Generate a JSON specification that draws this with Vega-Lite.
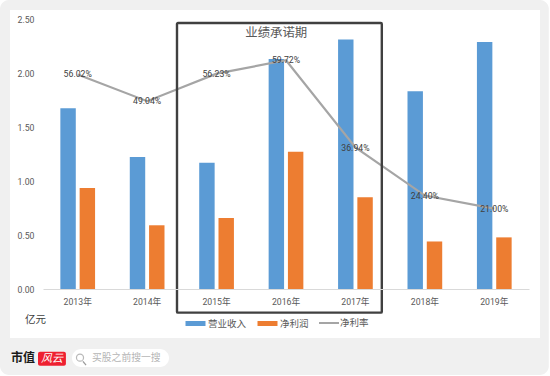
{
"$schema":"https://vega.github.io/schema/vega-lite/v6.json",
"width":486,"height":270,
"autosize":{"type":"none"},
"padding":{"left":43,"top":19,"right":21,"bottom":87},
"background":"#ffffff",
"view":{"stroke":null},
"config":{"font":"Noto Sans CJK SC","text":{"font":"Noto Sans CJK SC"}},
"datasets":{
"bars":[
{"year":"2013年","series":"营业收入","value":1.673},{"year":"2013年","series":"净利润","value":0.935},
{"year":"2014年","series":"营业收入","value":1.222},{"year":"2014年","series":"净利润","value":0.59},
{"year":"2015年","series":"营业收入","value":1.17},{"year":"2015年","series":"净利润","value":0.657},
{"year":"2016年","series":"营业收入","value":2.13},{"year":"2016年","series":"净利润","value":1.27},
{"year":"2017年","series":"营业收入","value":2.31},{"year":"2017年","series":"净利润","value":0.85},
{"year":"2018年","series":"营业收入","value":1.83},{"year":"2018年","series":"净利润","value":0.44},
{"year":"2019年","series":"营业收入","value":2.287},{"year":"2019年","series":"净利润","value":0.478}],
"margin":[
{"year":"2013年","series":"净利率","value":56.02,"label":"56.02%"},
{"year":"2014年","series":"净利率","value":49.04,"label":"49.04%"},
{"year":"2015年","series":"净利率","value":56.23,"label":"56.23%"},
{"year":"2016年","series":"净利率","value":59.72,"label":"59.72%"},
{"year":"2017年","series":"净利率","value":36.94,"label":"36.94%"},
{"year":"2018年","series":"净利率","value":24.40,"label":"24.40%"},
{"year":"2019年","series":"净利率","value":21.00,"label":"21.00%"}],
"one":[{"note":"annotation"}]
},
"layer":[
{"data":{"name":"one"},"mark":{"type":"rect","fill":"#f0f0f0","cornerRadius":9,"clip":false},
 "encoding":{"x":{"datum":-0.619,"type":"quantitative","scale":{"domain":[0,7],"nice":false,"zero":false},"axis":null},"x2":{"datum":7.285},
 "y":{"datum":2.676,"type":"quantitative","scale":{"domain":[0,2.5],"nice":false},"axis":null},"y2":{"datum":-0.797}}},
{"data":{"name":"one"},"mark":{"type":"rect","fill":"#ffffff"},
 "encoding":{"x":{"datum":-0.475,"type":"quantitative","scale":{"domain":[0,7],"nice":false,"zero":false},"axis":null},"x2":{"datum":7.158},
 "y":{"datum":2.583,"type":"quantitative","scale":{"domain":[0,2.5],"nice":false},"axis":null},"y2":{"datum":-0.454}}},
{"data":{"name":"bars"},"mark":{"type":"bar"},
 "encoding":{
 "x":{"field":"year","type":"nominal","scale":{"paddingInner":0.5,"paddingOuter":0.25},"axis":{"zindex":1,"title":null,"labelAngle":0,"labelFont":"Roboto, Noto Sans CJK SC","labelFontSize":8.7,"labelColor":"#595959","domainColor":"#d9d9d9","ticks":false,"labelPadding":8}},
 "xOffset":{"field":"series","type":"nominal","scale":{"domain":["营业收入","净利润"],"paddingInner":0.2}},
 "y":{"field":"value","type":"quantitative","scale":{"domain":[0,2.5],"nice":false},"axis":{"zindex":1,"title":null,"values":[0,0.5,1,1.5,2,2.5],"format":".2f","grid":false,"domain":false,"ticks":false,"labelFont":"Roboto, Noto Sans CJK SC","labelFontSize":8.7,"labelColor":"#595959","labelPadding":9}},
 "color":{"field":"series","type":"nominal","scale":{"domain":["营业收入","净利润"],"range":["#5B9BD5","#ED7D31"]},
  "legend":{"title":null,"orient":"none","legendX":140,"legendY":292,"direction":"horizontal","columns":2,"symbolType":"M-1,-0.25H1V0.25H-1Z","symbolSize":400,"symbolStrokeWidth":5,"labelFontSize":9.5,"labelColor":"#595959","labelOffset":0,"columnPadding":8}}}},
{"data":{"name":"margin"},"mark":{"type":"line","strokeWidth":2.2},
 "encoding":{
 "x":{"field":"year","type":"nominal","scale":{"paddingInner":0.5,"paddingOuter":0.25},"axis":null},
 "y":{"field":"value","type":"quantitative","scale":{"domain":[0,70.5],"nice":false},"axis":null},
 "stroke":{"field":"series","type":"nominal","scale":{"domain":["净利率"],"range":["#A5A5A5"]},
  "legend":{"title":null,"orient":"none","legendX":275,"legendY":293,"direction":"horizontal","symbolType":"stroke","symbolSize":400,"symbolStrokeWidth":2,"labelFontSize":9.5,"labelColor":"#595959","labelOffset":0}}}},
{"data":{"name":"margin"},"mark":{"type":"text","font":"Roboto, Noto Sans CJK SC","fontSize":8.7,"fill":"#404040"},
 "encoding":{
 "x":{"field":"year","type":"nominal","scale":{"paddingInner":0.5,"paddingOuter":0.25},"axis":null},
 "y":{"field":"value","type":"quantitative","scale":{"domain":[0,70.5],"nice":false},"axis":null},
 "text":{"field":"label"}}},
{"data":{"name":"one"},"mark":{"type":"rect","fill":null,"stroke":"#404040","strokeWidth":2.4,"cornerRadius":1,"clip":false},
 "encoding":{"x":{"datum":1.93,"type":"quantitative","scale":{"domain":[0,7],"nice":false,"zero":false},"axis":null},"x2":{"datum":4.88},
 "y":{"datum":2.463,"type":"quantitative","scale":{"domain":[0,2.5],"nice":false},"axis":null},"y2":{"datum":-0.219}}},
{"data":{"name":"one"},"mark":{"type":"text","fontSize":12.4,"fill":"#595959"},
 "encoding":{"x":{"datum":3.36,"type":"quantitative","scale":{"domain":[0,7],"nice":false,"zero":false},"axis":null},
 "y":{"datum":2.372,"type":"quantitative","scale":{"domain":[0,2.5],"nice":false},"axis":null},"text":{"value":"业绩承诺期"}}},
{"data":{"name":"one"},"mark":{"type":"text","fontSize":10.5,"fill":"#404040"},
 "encoding":{"x":{"datum":-0.107,"type":"quantitative","scale":{"domain":[0,7],"nice":false,"zero":false},"axis":null},
 "y":{"datum":-0.287,"type":"quantitative","scale":{"domain":[0,2.5],"nice":false},"axis":null},"text":{"value":"亿元"}}},
{"data":{"name":"one"},"mark":{"type":"text","fontSize":12,"fontWeight":"bold","fill":"#1a1a1a"},
 "encoding":{"x":{"datum":-0.288,"type":"quantitative","scale":{"domain":[0,7],"nice":false,"zero":false},"axis":null},
 "y":{"datum":-0.64,"type":"quantitative","scale":{"domain":[0,2.5],"nice":false},"axis":null},"text":{"value":"市值"}}},
{"data":{"name":"one"},"mark":{"type":"rect","fill":"#ee2030","cornerRadius":2},
 "encoding":{"x":{"datum":-0.072,"type":"quantitative","scale":{"domain":[0,7],"nice":false,"zero":false},"axis":null},"x2":{"datum":0.33},
 "y":{"datum":-0.58,"type":"quantitative","scale":{"domain":[0,2.5],"nice":false},"axis":null},"y2":{"datum":-0.71}}},
{"data":{"name":"one"},"mark":{"type":"text","fontSize":11,"fontStyle":"italic","fill":"#ffffff"},
 "encoding":{"x":{"datum":0.129,"type":"quantitative","scale":{"domain":[0,7],"nice":false,"zero":false},"axis":null},
 "y":{"datum":-0.645,"type":"quantitative","scale":{"domain":[0,2.5],"nice":false},"axis":null},"text":{"value":"风云"}}},
{"data":{"name":"one"},"mark":{"type":"rect","fill":"#ffffff","cornerRadius":9},
 "encoding":{"x":{"datum":0.418,"type":"quantitative","scale":{"domain":[0,7],"nice":false,"zero":false},"axis":null},"x2":{"datum":1.815},
 "y":{"datum":-0.555,"type":"quantitative","scale":{"domain":[0,2.5],"nice":false},"axis":null},"y2":{"datum":-0.722}}},
{"data":{"name":"one"},"mark":{"type":"point","shape":"circle","size":50,"stroke":"#9a9a9a","strokeWidth":1.2,"fill":null},
 "encoding":{"x":{"datum":0.533,"type":"quantitative","scale":{"domain":[0,7],"nice":false,"zero":false},"axis":null},
 "y":{"datum":-0.636,"type":"quantitative","scale":{"domain":[0,2.5],"nice":false},"axis":null}}},
{"data":{"name":"one"},"mark":{"type":"rule","stroke":"#9a9a9a","strokeWidth":1.3},
 "encoding":{"x":{"datum":0.575,"type":"quantitative","scale":{"domain":[0,7],"nice":false,"zero":false},"axis":null},"x2":{"datum":0.62},
 "y":{"datum":-0.67,"type":"quantitative","scale":{"domain":[0,2.5],"nice":false},"axis":null},"y2":{"datum":-0.705}}},
{"data":{"name":"one"},"mark":{"type":"text","fontSize":9.8,"align":"left","fill":"#b5b5b5"},
 "encoding":{"x":{"datum":0.706,"type":"quantitative","scale":{"domain":[0,7],"nice":false,"zero":false},"axis":null},
 "y":{"datum":-0.64,"type":"quantitative","scale":{"domain":[0,2.5],"nice":false},"axis":null},"text":{"value":"买股之前搜一搜"}}}
],
"resolve":{"scale":{"x":"independent","y":"independent"}}
}
